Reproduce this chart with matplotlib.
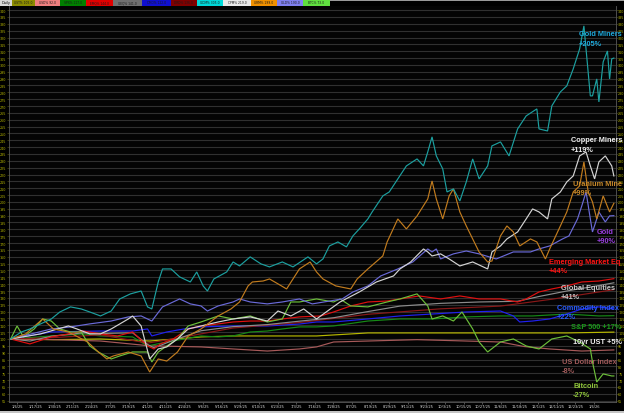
import matplotlib
matplotlib.use("Agg")
import matplotlib.pyplot as plt
from matplotlib.patches import Rectangle
import numpy as np

# ---------------- data (index levels, start = 100) ----------------
gm_days = [0,5,9,14,19,23,28,33,37,42,47,51,56,61,64,66,69,71,75,79,84,87,90,92,95,101,104,107,112,117,
           121,127,132,139,143,146,149,153,157,160,163,167,169,174,177,181,185,190,193,195,197,199,202,204,
           207,210,213,216,219,223,225,229,233,237,241,246,247,251,253,257,260,263,266,268,271,272,274,275,
           277,279,280,281,282]
gm_vals = [100,105.1,107.3,111,114.6,119.7,123.4,121.9,119.7,116.8,120.4,129.2,132.9,135,123.4,121.9,141.6,
           151.1,151.1,145.3,141.6,148.9,138.7,135,143.8,148.9,156.2,153.3,159.9,154.8,152.6,156.2,152.6,
           159.9,154.8,158.4,167.9,170.8,167.2,175.2,180.3,187.6,192.7,204.4,207.3,216.8,226.3,231.4,226.3,
           236.5,247.5,233.6,224.1,207.3,209.5,200.7,214.6,231.4,216.8,226.3,240.9,243.8,233.6,253.3,262.8,
           267.9,253.3,251.8,270.1,280.3,284.7,297.1,311.7,328.5,277.4,277.4,289.8,273,302.2,310.2,289.8,
           304.4,305]

ur_days = [0,7,15,20,27,36,41,45,48,55,61,65,69,73,78,83,89,97,103,107,111,113,118,121,125,129,132,135,
           140,143,146,152,159,162,167,174,176,181,185,190,195,197,199,202,205,207,210,213,216,219,223,225,
           229,232,235,238,243,246,250,252,257,260,263,266,268,270,272,274,277,280,282]
ur_vals = [100,103.7,114.6,107.3,105.1,97.8,90.5,85.4,87.6,90.5,87.6,75.9,85.4,83.9,90.5,102.2,107.3,116.8,
           121.9,127,138.7,141.6,142.3,143.8,140.2,136.5,143.8,151.1,156.2,148.9,143.8,138.7,136.5,143.8,
           151.1,160.6,170.8,187.6,180.3,189.8,202.2,215.3,202.2,187.6,204.4,209.5,192.7,182.5,173,163.5,
           156.2,156.9,175.2,182.5,178.1,167.9,173,170.8,158.4,165.7,182.5,192.7,207.3,211.7,229.2,207.3,
           200,187.6,204.4,192.7,199]

cu_days = [0,14,27,31,37,42,47,55,57,61,65,69,73,78,83,89,97,104,112,120,125,131,137,143,154,163,171,179,
           182,187,193,195,197,201,205,210,216,223,225,229,232,237,241,244,247,251,253,257,260,263,266,269,
           271,273,275,278,281,282]
cu_vals = [100,103.7,109.5,107.3,103.7,103.7,107.3,114.6,116.8,109.5,85.4,92.7,94.2,100,107.3,109.5,112.4,
           114.6,116.1,113.1,120.4,116.8,121.9,114.6,127,134.3,141.6,146,151.1,156.2,165.7,163.5,160.6,
           162.1,158.4,153.3,156.2,151.1,163.5,167.9,173,178.1,187.6,194.9,192.7,187.6,202.2,207.3,214.6,
           219,233.6,236.5,226.3,216.8,229.2,233.6,226.3,219]

au_days = [0,19,28,37,47,55,61,66,71,79,84,89,92,97,104,107,112,120,127,135,141,155,160,167,173,181,188,
           195,197,199,201,207,213,219,227,235,243,247,252,258,261,265,267,269,271,272,274,275,278,280,282]
au_vals = [100,107.3,108.8,111,113.1,116.1,116.8,113.1,123.4,129.2,125.6,124.1,120.4,124.1,127,129.2,127,
           125.6,127,129.2,125.6,129.2,134.3,138.7,146,151.1,156.2,165.7,163.5,165.7,158.4,162.1,164.2,
           162.1,158.4,163.5,163.5,165.7,167.9,173,175.2,187.6,197.1,207.3,187.6,178.1,187.6,192.7,185.4,
           189.8,190]

em_days = [0,9,19,27,34,42,50,57,64,67,70,76,83,89,97,104,112,120,127,135,145,151,159,167,176,182,191,201,
           210,219,229,237,241,247,253,260,267,275,282]
em_vals = [100,96.4,101.5,103.7,105.8,103.7,102.2,105.1,94.9,92.7,96.4,100,107.3,109.5,111,112.4,113.1,
           113.1,114.6,116.1,116.8,119.7,124.1,127,127.7,129.2,131.4,129.2,131.4,129.2,129.2,127,129.2,
           134.3,136.5,138.7,141.6,142.3,144]

ge_days = [0,9,19,34,42,57,64,67,76,89,104,120,135,151,167,182,201,219,237,247,260,275,282]
ge_vals = [100,98.5,102,104.5,104,104.5,96,93.5,99,106,109,110.5,113,115.5,120,124,126,127,127.5,131,135,
           139,141]

dr_days = [0,20,42,64,76,104,135,167,201,229,253,282]
dr_vals = [100,101,103,97,100,108,112,118,122,124,129,136]

ci_days = [0,19,42,57,64,66,73,81,89,104,120,135,143,151,167,182,197,213,229,235,238,244,252,260,267,275,282]
ci_vals = [100,105.1,105.8,105.8,107.3,102.2,105.1,107.3,108.8,109.5,109.5,110.9,112.4,112.4,114.6,116.8,
           118.2,119.7,120.4,116.8,112.4,113.1,114.6,118.2,121.9,123.4,122]

sp_days = [0,19,34,42,57,64,73,81,89,97,104,112,120,127,135,143,151,167,182,197,213,229,244,260,275,282]
sp_vals = [100,102.2,103.7,102.2,101.5,94.9,97.8,100,102.2,101.5,102.2,105.1,105.8,107.3,108.8,108.8,109.5,
           113.1,114.6,114.6,116.1,116.8,116.8,118.2,116.8,117]

ust_days = [0,20,42,65,89,104,120,143,167,197,229,260,282]
ust_vals = [100,99.5,100,98.5,101.5,102.2,102.2,102.2,104.4,104.4,104.4,104.4,105]

usd_days = [0,20,42,65,89,104,120,135,143,151,167,190,213,229,240,252,267,282]
usd_vals = [100,99.5,98.5,95,94.2,92.7,91.2,92.7,94.2,97.8,98.5,99.5,98.5,97.8,94.5,92.7,91.2,92]

btc_days = [0,3,6,11,15,19,23,28,33,37,41,47,51,57,64,66,69,73,78,83,89,97,104,112,120,127,131,135,143,151,
            154,159,167,176,182,190,195,197,202,207,211,216,219,223,229,235,241,247,253,260,266,271,272,274,
            277,281,282]
btc_vals = [100,109.5,101.5,107.3,114.6,113.1,107.3,105.1,105.1,94.9,90.5,85.4,87.6,90.5,90.5,83.2,90.5,94.9,
            100,109.5,112.4,116.8,114.6,116.8,112.4,114.6,127,127,129.2,127,129.2,124.1,123.4,127,129.2,132.9,
            124.1,114.6,116.8,113.1,119.7,107.3,97.8,90.5,97.8,100,94.9,92.7,100,102.2,97.8,92.7,83.2,68.6,
            74.5,73,73]

date_labels = ["1/6/25","1/17/25","1/30/25","2/11/25","2/24/25","3/7/25","3/19/25","4/1/25","4/11/25",
               "4/24/25","5/6/25","5/16/25","5/29/25","6/10/25","6/23/25","7/3/25","7/16/25","7/28/25",
               "8/7/25","8/19/25","8/29/25","9/11/25","9/23/25","10/3/25","10/15/25","10/27/25","11/6/25",
               "11/18/25","12/1/25","12/11/25","12/23/25","1/6/26"]

legend_codes = ["UST% 105.0","USD% 92.0","SPX% 117.0","EMQ% 144.0","GEQ% 141.0","CMD% 122.0","DRD% 136.0",
                "GDM% 305.0","CPM% 219.0","URM% 199.0","GLD% 190.0","BTC% 73.0"]

# label texts as they appear (truncated at the chart's right edge in the original)
label_names = ["Gold Miners","Copper Miners","Uranium Mine","Gold","Emerging Market Eq",
               "Global Equities","Commodity Index","S&P 500","10yr UST","US Dollar Index","Bitcoin"]
label_changes = ["+205%","+119%","+99%","+90%","+44%","+41%","+22%","+17%","+5%","-8%","-27%"]

# ---------------- styling ----------------
W, H = 624, 414
fig = plt.figure(figsize=(W/100, H/100), dpi=100, facecolor="#000000")
ax_l, ax_r, ax_t, ax_b = 8.5, 616.0, 7.0, 403.0
ax = fig.add_axes([ax_l/W, (H-ax_b)/H, (ax_r-ax_l)/W, (ax_b-ax_t)/H])
ax.set_facecolor("#040404")
ax.set_xlim(-1, 283)
ax.set_ylim(54, 343)

ax.set_yticks(np.arange(55, 343, 5))
ax.yaxis.set_major_formatter(matplotlib.ticker.FormatStrFormatter("%d"))
ax.grid(axis="y", color="#303030", lw=0.8)
ax.grid(axis="x", visible=False)
ax.set_axisbelow(True)
ax.tick_params(axis="y", which="both", left=True, right=True, labelleft=True, labelright=True,
               labelsize=2.4, labelcolor="#b4b400", color="#5a5a10", length=1.2, width=0.4, pad=0.4)

tick_pos = 3 + 8.7 * np.arange(len(date_labels))
ax.set_xticks(tick_pos)
ax.set_xticklabels(date_labels)
ax.tick_params(axis="x", labelsize=2.6, labelcolor="#d8d8d8", color="#909090", length=1.2, width=0.4, pad=0.6)

for s in ("left", "right", "bottom"):
    ax.spines[s].set_color("#5a5a5a")
    ax.spines[s].set_linewidth(0.6)
ax.spines["top"].set_visible(False)

series = [
    (ust_days, ust_vals, "#b8b800"),
    (usd_days, usd_vals, "#a85a5a"),
    (sp_days, sp_vals, "#168a16"),
    (ci_days, ci_vals, "#2020f0"),
    (dr_days, dr_vals, "#8a1818"),
    (ge_days, ge_vals, "#8c8c8c"),
    (em_days, em_vals, "#e01010"),
    (btc_days, btc_vals, "#6cbf3a"),
    (au_days, au_vals, "#6a6ad8"),
    (cu_days, cu_vals, "#d4d4d4"),
    (ur_days, ur_vals, "#c27c1e"),
    (gm_days, gm_vals, "#1ca0a0"),
]
for d, v, c in series:
    ax.plot(d, v, color=c, lw=0.85, solid_joinstyle="miter")

# ---------------- end labels ----------------
label_colors = ["#1eaadc", "#f0f0f0", "#c98a2a", "#9b3fe0", "#ff1414", "#c8c8c8", "#2a5cff",
                "#1a9a1a", "#f0f0f0", "#a05a5a", "#8fc43a"]
label_px = [(579, 35), (571, 141), (573, 185), (597, 233), (549, 263), (561, 289), (557, 309),
            (571, 328), (573, 343), (562, 363), (573, 387)]
single_line = {"S&P 500", "10yr UST"}
font = dict(family="Liberation Sans", weight="bold", size=5.3)
for name, chg, col, (px, py) in zip(label_names, label_changes, label_colors, label_px):
    fx = (px - ax_l) / (ax_r - ax_l)
    fy = (ax_b - py) / (ax_b - ax_t)
    if name in single_line:
        ax.text(fx, fy, f"{name} {chg}", transform=ax.transAxes, color=col, va="center", ha="left",
                clip_on=False, **font)
    else:
        ax.text(fx, fy, name, transform=ax.transAxes, color=col, va="center", ha="left", clip_on=False, **font)
        fy2 = (ax_b - py - 9) / (ax_b - ax_t)
        ax.text(fx, fy2, chg, transform=ax.transAxes, color=col, va="center", ha="left", clip_on=False, **font)

# ---------------- top legend strip ----------------
strip_h = 6.5
fig.add_artist(Rectangle((0, (H - strip_h) / H), 1, strip_h / H, transform=fig.transFigure,
                         facecolor="#000000", edgecolor="none"))
fig.add_artist(Rectangle((330 / W, (H - 1.6) / H), (W - 330) / W, 0.8 / H, transform=fig.transFigure,
                         facecolor="#9a9a9a", edgecolor="none"))
fig.add_artist(Rectangle((0, (H - strip_h) / H), 11.5 / W, strip_h / H, transform=fig.transFigure,
                         facecolor="#d8d8d8", edgecolor="none"))
fig.text(5.8 / W, (H - strip_h / 2) / H, "Daily", fontsize=2.5, color="#000000", ha="center", va="center")
box_edges = [12, 35, 60, 86, 113, 142, 171, 197, 223, 251, 277, 303, 330]
box_colors = ["#8c8c00", "#f08080", "#008000", "#e00000", "#707070", "#1010d0", "#800000",
              "#00d8d8", "#e8e8e8", "#f09000", "#8080f0", "#60e040"]
for i, (code, bc) in enumerate(zip(legend_codes, box_colors)):
    x0, x1 = box_edges[i], box_edges[i + 1]
    fig.add_artist(Rectangle((x0 / W, (H - strip_h) / H), (x1 - x0 - 0.5) / W, strip_h / H,
                             transform=fig.transFigure, facecolor=bc, edgecolor="none"))
    fig.text((x0 + x1) / 2 / W, (H - strip_h / 2) / H, code, fontsize=2.2, color="#1a1a1a",
             ha="center", va="center")

# bottom status strip
fig.add_artist(Rectangle((0, 0), 1, 2.5 / H, transform=fig.transFigure, facecolor="#c4c4c4", edgecolor="none"))

fig.savefig("out.png", dpi=100, facecolor=fig.get_facecolor())
